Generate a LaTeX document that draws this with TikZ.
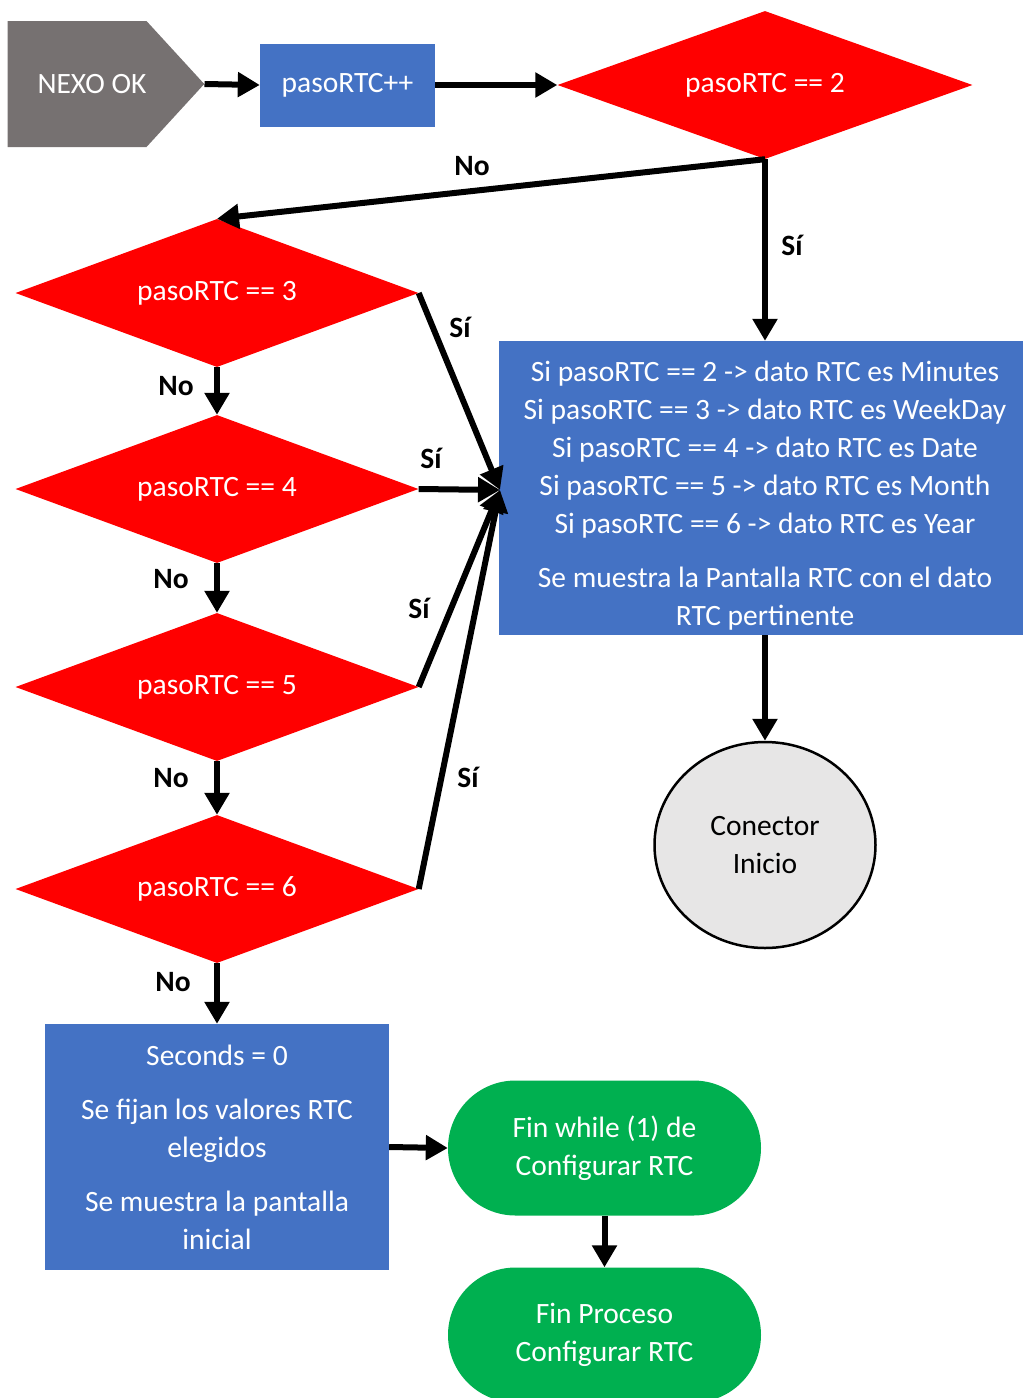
\documentclass[tikz,border=0pt]{standalone}
\usepackage{fontspec}
\setmainfont{Carlito}
\usetikzlibrary{arrows.meta,shapes.geometric,shapes.misc,shapes.symbols}

\definecolor{nexogray}{RGB}{118,113,113}
\definecolor{procblue}{RGB}{68,114,196}
\definecolor{endgreen}{RGB}{0,176,80}
\definecolor{connfill}{RGB}{231,230,230}

\begin{document}
\begin{tikzpicture}[x=1pt,y=-1pt]

	\tikzstyle every node=[font=\fontsize{29.5}{38}\selectfont];
	\tikzstyle flow lines=[line width=6pt, -{Triangle[length=22pt,width=24pt]}];
	\tikzstyle decision=[diamond, fill=red, text=white, aspect=2.7, inner sep=0pt, minimum width=403pt, minimum height=148pt];
	\tikzstyle process=[rectangle, fill=procblue, text=white, align=center, inner sep=0pt];
	\tikzstyle terminal=[rounded rectangle, fill=endgreen, text=white, align=center, inner sep=0pt, minimum width=313pt, minimum height=135pt];
	\tikzstyle answer=[font=\fontsize{29.5}{38}\selectfont\bfseries];

	\useasboundingbox (0,0) rectangle (1023,1398);

	% top row
	\node[signal, signal to=east, signal pointer angle=95, fill=nexogray, text=white, inner sep=0pt, minimum width=190pt, minimum height=126pt] (nexo) at (77,84) {\kern30pt NEXO OK};
	\node[process, minimum width=175pt, minimum height=83pt] (inc) at (347.5,85) {pasoRTC++};
	\node[decision, minimum width=415pt] (d2) at (765,85) {pasoRTC == 2};

	% the other tests, one under the other
	\foreach \n/\y in {3/293,4/489,5/687,6/889}
		\node[decision] (d\n) at (217,\y) {pasoRTC == \n};

	\node[process, minimum width=532pt, minimum height=294pt] (show) at (765,488)
		{\rule{0pt}{35pt}Si pasoRTC == 2 -> dato RTC es Minutes\\
		 Si pasoRTC == 3 -> dato RTC es WeekDay\\
		 Si pasoRTC == 4 -> dato RTC es Date\\
		 Si pasoRTC == 5 -> dato RTC es Month\\
		 Si pasoRTC == 6 -> dato RTC es Year\\[16pt]
		 Se muestra la Pantalla RTC con el dato\\
		 RTC pertinente};
	\node[ellipse, draw=black, line width=2.5pt, fill=connfill, align=center, minimum width=221pt, minimum height=206pt] (conn) at (765,845) {Conector\\Inicio};

	\node[process, minimum width=344pt, minimum height=246pt] (fix) at (217,1147)
		{Seconds = 0\\[16pt]
		 Se fijan los valores RTC\\
		 elegidos\\[16pt]
		 Se muestra la pantalla\\
		 inicial};
	\node[terminal] (endwhile) at (604.5,1148) {Fin while (1) de\\Configurar RTC};
	\node[terminal] (endproc) at (604.5,1335) {Fin Proceso\\Configurar RTC};

	% connectors
	\draw[flow lines] (nexo.east) -- (inc.west);
	\draw[flow lines] (inc.east) -- (d2.west);
	\draw[flow lines] (d2.south) -- (show.north);
	\draw[flow lines] (d2.south) -- (d3.north);

	\coordinate (hub) at (500,490);
	\foreach \n in {3,...,6}
		\draw[flow lines] (d\n.east) -- (hub);

	\foreach \a/\b in {3/4,4/5,5/6}
		\draw[flow lines] (d\a.south) -- (d\b.north);
	\draw[flow lines] (d6.south) -- (fix.north);

	\draw[flow lines] (show.south) -- (conn.north);
	\draw[flow lines] (fix.east) -- (endwhile.west);
	\draw[flow lines] (endwhile.south) -- (endproc.north);

	% branch labels
	\node[answer] (no2) at (472,166) {No};
	\node[answer] (si2) at (792,245) {Sí};
	\node[answer] (si3) at (460,327) {Sí};
	\node[answer] (si4) at (431,458) {Sí};
	\node[answer] (si5) at (419,608) {Sí};
	\node[answer] (si6) at (468,777) {Sí};
	\node[answer] (no3) at (176,386) {No};
	\node[answer] (no4) at (171,579) {No};
	\node[answer] (no5) at (171,778) {No};
	\node[answer] (no6) at (173,982) {No};

\end{tikzpicture}
\end{document}
